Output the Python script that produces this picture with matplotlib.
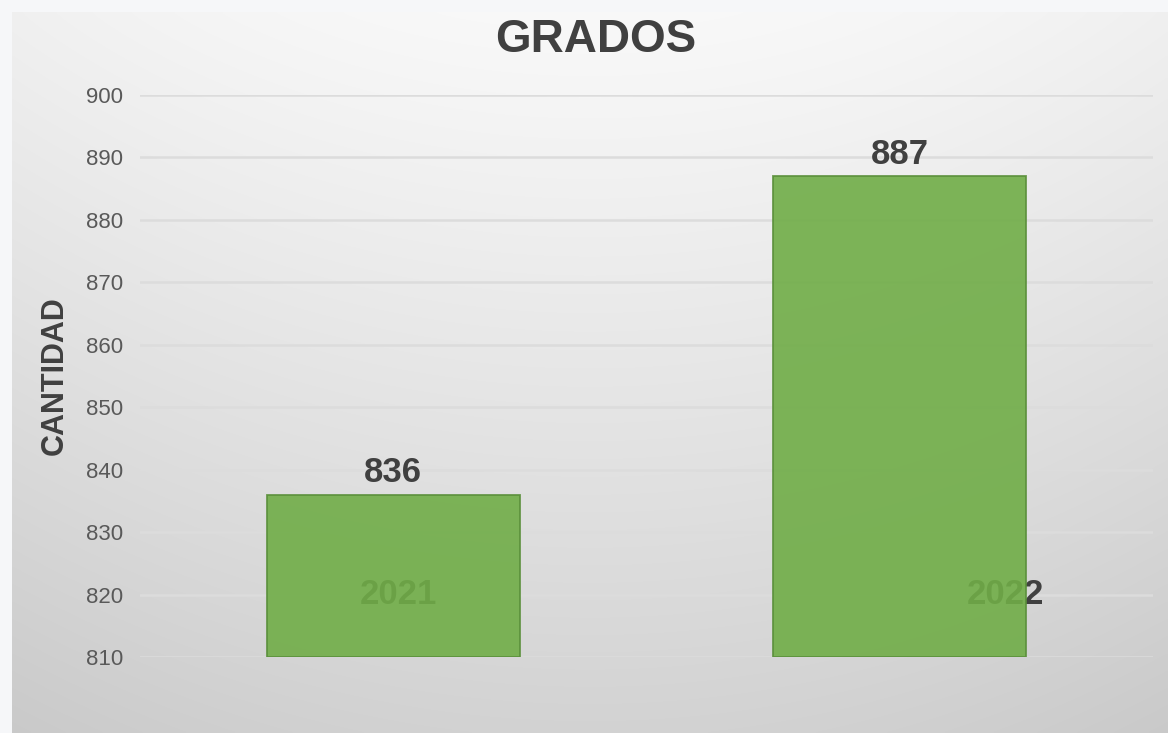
import matplotlib
matplotlib.use('Agg')
import matplotlib.pyplot as plt
import numpy as np

plt.rcParams['font.family'] = ['Liberation Sans', 'DejaVu Sans']

# Graduates per year
years = ['2021', '2022']
grados = [836, 887]
# where the year captions sit (category units, value units)
year_label_x = [0.01, 1.21]
year_label_y = 820

y_min, y_max, y_step = 810, 900, 10

fig = plt.figure(figsize=(11.68, 7.33), dpi=100)
fig.patch.set_facecolor('#f6f7f9')

# chart box with a soft light-to-grey gradient
bx0, by1 = 12 / 1168, 1 - 12 / 733
bg = fig.add_axes([bx0, 0, 1 - bx0, by1])
ny, nx = 300, 400
yy, xx = np.mgrid[0:1:ny * 1j, 0:1:nx * 1j]
shade = 0.975 - 0.15 * yy ** 1.1 - 0.035 * ((xx - 0.5) / 0.5) ** 2
bg.imshow(np.dstack([shade] * 3), aspect='auto', extent=[0, 1, 0, 1],
          origin='upper', interpolation='bilinear')
bg.set_axis_off()

ax = fig.add_axes([140 / 1168, 1 - 657 / 733, (1152.5 - 140) / 1168, (657 - 95) / 733])
ax.patch.set_alpha(0)

x = np.arange(len(years))

# year captions go underneath the bars
for xi, yi, name in zip(year_label_x, [year_label_y] * len(years), years):
    ax.text(xi, yi, name, ha='center', va='center', fontsize=25,
            fontweight='bold', color='#404040', zorder=1)

heights = [g - y_min for g in grados]
bars = ax.bar(x, heights, bottom=y_min, width=0.5, color='#70ad47', alpha=0.9,
              edgecolor='#5a8f3a', linewidth=1.3, zorder=2)
ax.bar_label(bars, labels=[str(g) for g in grados], padding=4, fontsize=25,
             fontweight='bold', color='#404040')

ax.set_xlim(-0.5, 1.5)
ax.set_ylim(y_min, y_max)
ax.set_yticks(np.arange(y_min, y_max + 1, y_step))
ax.set_xticks([])
ax.tick_params(axis='y', length=0, pad=12, labelsize=16, labelcolor='#595959')
ax.yaxis.grid(True, color='#dcdcdc', linewidth=1.8, zorder=0)
ax.set_axisbelow(True)
for s in ax.spines.values():
    s.set_visible(False)

ax.set_ylabel('CANTIDAD', fontsize=22, fontweight='bold', color='#404040', labelpad=12)
fig.text(596 / 1168, 1 - 40 / 733, 'GRADOS', ha='center', va='center',
         fontsize=33, fontweight='bold', color='#404040')

fig.savefig('out.png', dpi=100, facecolor=fig.get_facecolor())
